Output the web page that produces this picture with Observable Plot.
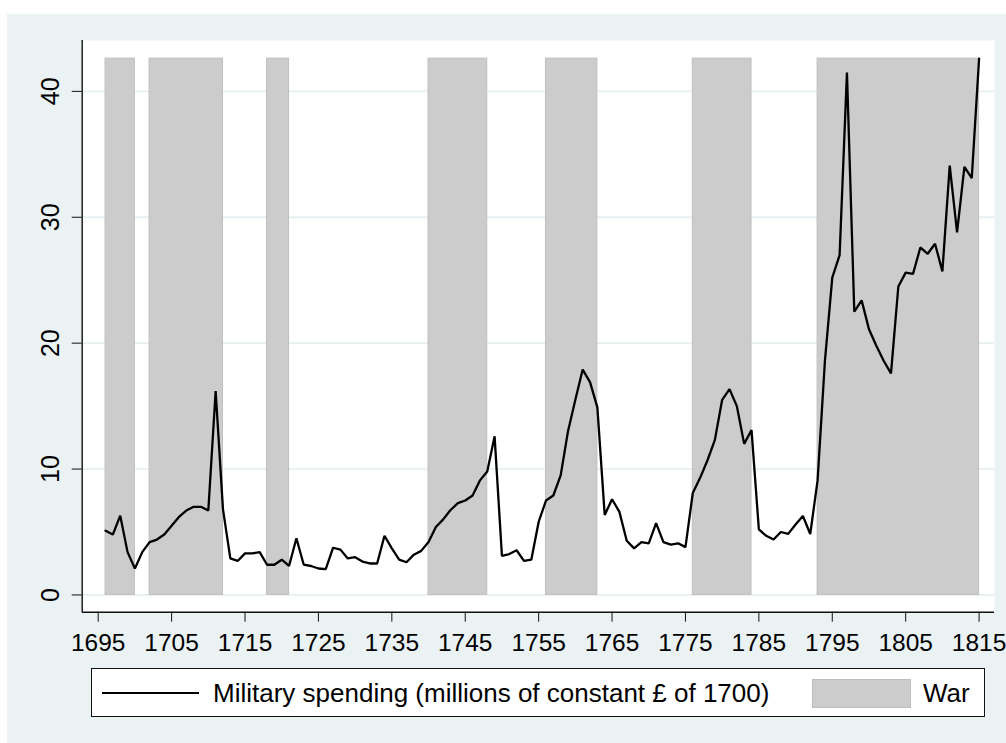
<!DOCTYPE html>
<html>
<head>
<meta charset="utf-8">
<script src="https://cdn.jsdelivr.net/npm/d3@7"></script>
<script src="https://cdn.jsdelivr.net/npm/@observablehq/plot@0.6"></script>
<style>
  html, body { margin: 0; padding: 0; background: #ffffff; }
  #wrap { position: relative; width: 1006px; height: 743px; background: #ffffff; overflow: hidden;
          font-family: "Liberation Sans", Arial, sans-serif; }
  #panel { position: absolute; left: 7px; top: 14px; right: 0; bottom: 0; background: #eaf2f3; }
  #chart { position: absolute; left: 0; top: 0; }
  #legend { position: absolute; left: 91px; top: 668px; width: 892px; height: 47px;
            border: 1.4px solid #111; background: #ffffff; }
  #legend .line { position: absolute; left: 10px; top: 23px; width: 97px; height: 0; border-top: 2px solid #000; }
  #legend .t1 { position: absolute; left: 121px; top: 9px; font-size: 26px; line-height: 30px; color: #000; white-space: nowrap; }
  #legend .sw { position: absolute; left: 720px; top: 10px; width: 97px; height: 27px; background: #cccccc; border: 1px solid #bdbdbd; }
  #legend .t2 { position: absolute; left: 831px; top: 9px; font-size: 26px; line-height: 30px; color: #000; white-space: nowrap; }
</style>
</head>
<body>
<div id="wrap">
  <div id="panel"></div>
  <div id="chart"></div>
  <div id="legend">
    <div class="line"></div>
    <div class="t1" id="lab1"></div>
    <div class="sw"></div>
    <div class="t2" id="lab2"></div>
  </div>
</div>
<script>
// ---- data ----
const years = d3.range(1696, 1816);
const spending = [
  5.1, 4.8, 6.3, 3.4, 2.1, 3.4, 4.2, 4.4, 4.8, 5.5,      // 1696-1705
  6.2, 6.7, 7.0, 7.0, 6.7, 16.2, 6.8, 2.9, 2.7, 3.3,     // 1706-1715
  3.3, 3.4, 2.4, 2.4, 2.8, 2.3, 4.5, 2.4, 2.3, 2.1,      // 1716-1725
  2.05, 3.75, 3.6, 2.9, 3.0, 2.65, 2.5, 2.5, 4.7, 3.7,   // 1726-1735
  2.8, 2.6, 3.2, 3.5, 4.2, 5.4, 6.0, 6.75, 7.3, 7.5,     // 1736-1745
  7.9, 9.1, 9.8, 12.6, 3.1, 3.25, 3.55, 2.7, 2.8, 5.8,   // 1746-1755
  7.5, 7.9, 9.5, 13.0, 15.5, 17.9, 16.9, 14.9, 6.35, 7.6,// 1756-1765
  6.6, 4.3, 3.7, 4.2, 4.1, 5.7, 4.2, 4.0, 4.1, 3.8,      // 1766-1775
  8.1, 9.3, 10.7, 12.3, 15.5, 16.35, 15.0, 12.0, 13.1, 5.2, // 1776-1785
  4.7, 4.4, 5.0, 4.85, 5.6, 6.27, 4.84, 9.1, 18.6, 25.2, // 1786-1795
  27.0, 41.5, 22.5, 23.4, 21.1, 19.8, 18.6, 17.6, 24.5, 25.6, // 1796-1805
  25.5, 27.6, 27.1, 27.9, 25.7, 34.1, 28.8, 34.0, 33.1, 42.6  // 1806-1815
];
const warStart = [1696, 1702, 1718, 1740, 1756, 1776, 1793];
const warEnd   = [1700, 1712, 1721, 1748, 1763, 1784, 1815];
const xTicks = d3.range(1695, 1816, 10);
const yTicks = [0, 10, 20, 30, 40];
const seriesLabel = "Military spending (millions of constant £ of 1700)";
const warLabel = "War";

// ---- tables ----
const series = years.map((y, i) => ({year: y, value: spending[i]}));
const warTop = d3.max(spending);
const wars = warStart.map((s, i) => ({start: s, end: warEnd[i], lo: 0, hi: warTop}));

const xDomain = [1692.82, 1817.1];
const yDomain = [-1.37, 44.04];
const font = "'Liberation Sans', Arial, sans-serif";

const chart = Plot.plot({
  width: 1006,
  height: 650,
  marginLeft: 81.7,
  marginRight: 12,
  marginTop: 40,
  marginBottom: 38.3,
  style: {background: "transparent", fontFamily: font, overflow: "visible"},
  x: {domain: xDomain, label: null},
  y: {domain: yDomain, label: null},
  marks: [
    Plot.frame({fill: "#ffffff", stroke: null}),
    Plot.ruleY(yTicks, {stroke: "#e6eff1", strokeWidth: 1.8}),
    Plot.rect(wars, {x1: "start", x2: "end", y1: "lo", y2: "hi", fill: "#cccccc", stroke: "#bfbfbf", strokeWidth: 1}),
    Plot.line(series, {x: "year", y: "value", stroke: "#000000", strokeWidth: 2.3, strokeLinejoin: "miter"}),
    Plot.ruleX([xDomain[0]], {stroke: "#111", strokeWidth: 1.4}),
    Plot.ruleY([yDomain[0]], {stroke: "#111", strokeWidth: 1.4}),
    Plot.axisX({ticks: xTicks, tickSize: 10, tickPadding: 11, tickFormat: d => String(d),
                fontSize: 24.5, fill: "#000", stroke: "#111", label: null}),
    Plot.axisY({ticks: yTicks, tickSize: 10, tickFormat: () => "", stroke: "#111", label: null}),
    Plot.text(yTicks, {x: () => xDomain[0], y: d => d, text: d => String(d), rotate: -90,
                       dx: -31, fontSize: 25, fill: "#000", textAnchor: "middle", lineAnchor: "middle"})
  ]
});
document.getElementById("chart").appendChild(chart);
document.getElementById("lab1").textContent = seriesLabel;
document.getElementById("lab2").textContent = warLabel;
</script>
</body>
</html>
